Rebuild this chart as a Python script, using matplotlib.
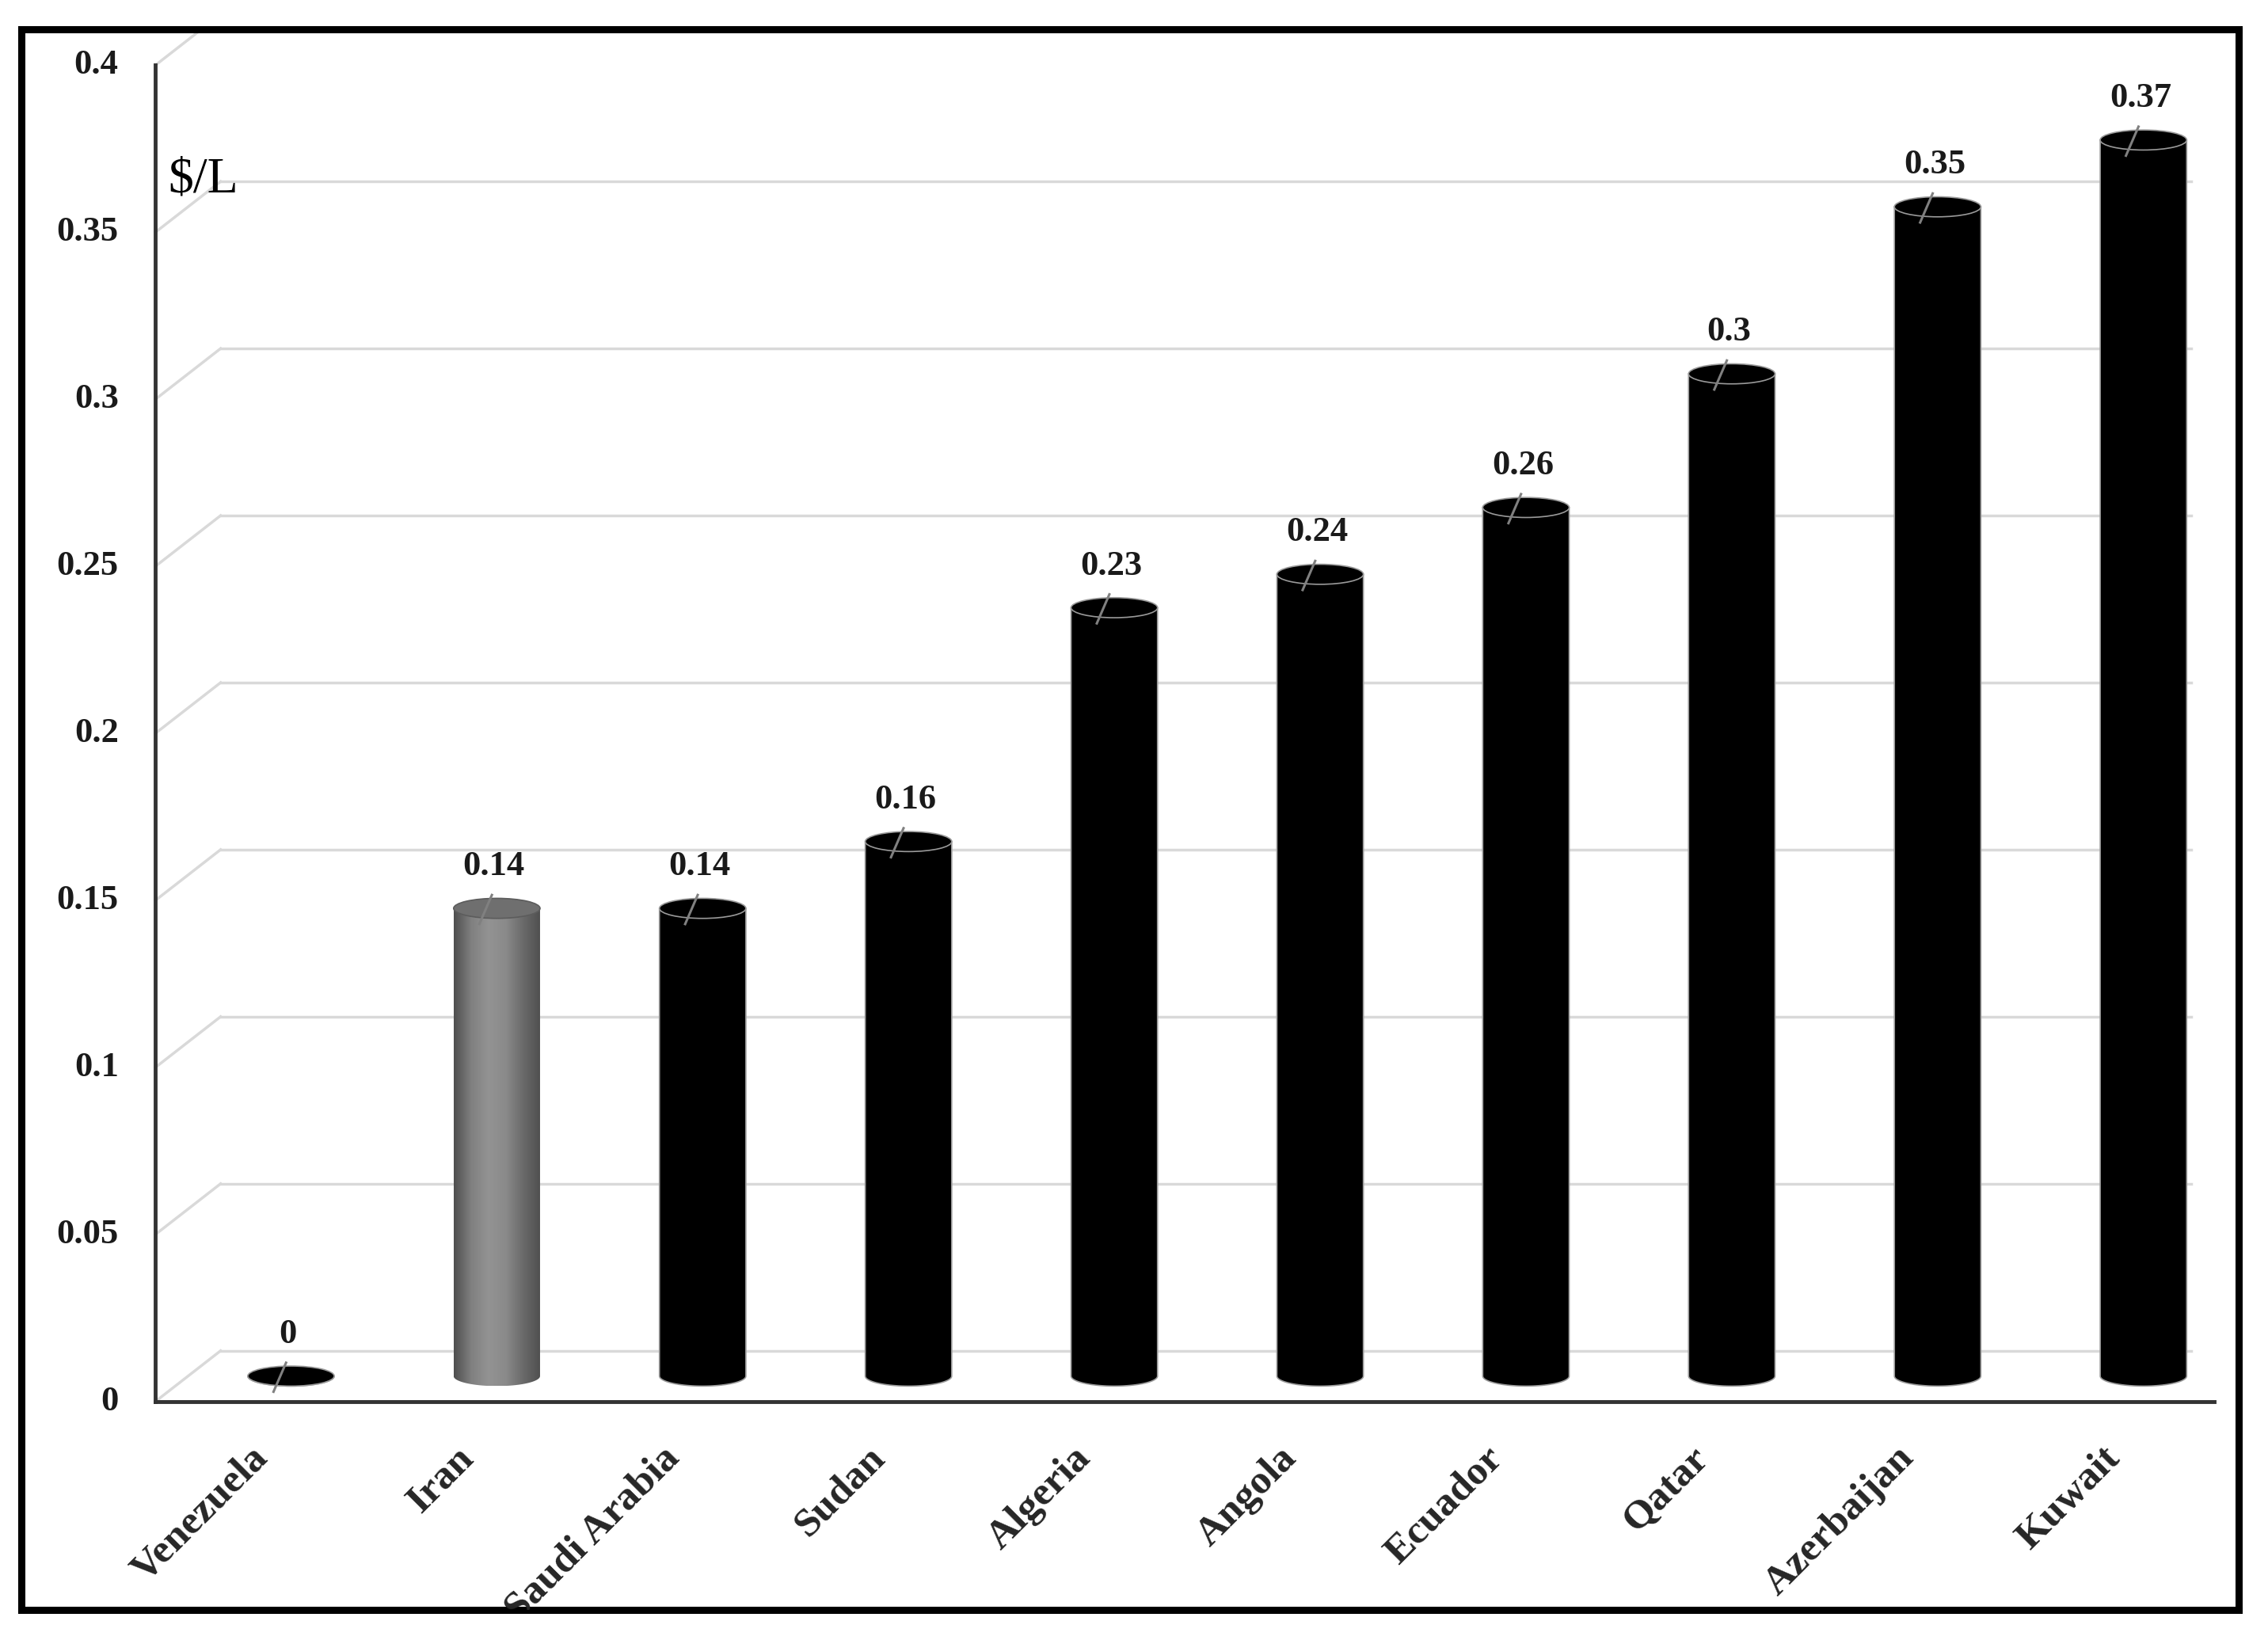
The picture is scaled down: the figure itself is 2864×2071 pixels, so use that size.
import numpy as np
import matplotlib.pyplot as plt
from matplotlib.patches import Ellipse, Polygon
from matplotlib.colors import LinearSegmentedColormap

countries = ["Venezuela", "Iran", "Saudi Arabia", "Sudan", "Algeria",
             "Angola", "Ecuador", "Qatar", "Azerbaijan", "Kuwait"]
prices = [0, 0.14, 0.14, 0.16, 0.23, 0.24, 0.26, 0.30, 0.35, 0.37]
price_labels = ["0", "0.14", "0.14", "0.16", "0.23", "0.24", "0.26", "0.3", "0.35", "0.37"]
highlight = "Iran"
yticks = [0, 0.05, 0.1, 0.15, 0.2, 0.25, 0.3, 0.35, 0.4]
ytick_labels = ["0", "0.05", "0.1", "0.15", "0.2", "0.25", "0.3", "0.35", "0.4"]
unit = "$/L"

# fake 3d: depth offset of the back wall
DX = 0.316
DY = 0.01515
W = 0.42      # cylinder width
EH = 0.003    # ellipse half height

plt.rcParams['font.family'] = ['Liberation Serif', 'DejaVu Serif']

fig = plt.figure(figsize=(28.64, 20.71), dpi=100)
ax = fig.add_axes([15 / 1568, 1 - 1113 / 1134, 1533 / 1568, 1093 / 1134])
ax.set_xticks([])
ax.set_yticks([])
for s in ax.spines.values():
    s.set_linewidth(6.5)
    s.set_color("black")

x_left = -0.5
x_front_end = len(countries) - 0.5
x_back_end = len(countries) - 0.61

# back wall gridlines + diagonals
for v in yticks:
    ax.plot([x_left, x_left + DX], [v, v + DY], color="#d9d9d9", lw=2.5, zorder=1)
    ax.plot([x_left + DX, x_back_end], [v + DY, v + DY], color="#d9d9d9", lw=2.5, zorder=1)

# front axes
ax.plot([x_left, x_left], [0, yticks[-1]], color="#333333", lw=3.5, zorder=2)
ax.plot([x_left, x_front_end], [0, 0], color="#333333", lw=3.5, zorder=2)

for v, lab in zip(yticks, ytick_labels):
    ax.text(x_left - 0.18, v, lab, ha="right", va="center", fontsize=32,
            fontweight="bold", color="#1a1a1a")

ax.text(x_left + 0.06, 0.3619, unit, ha="left", va="baseline", fontsize=46, color="black")

gray_cmap = LinearSegmentedColormap.from_list(
    "cyl", ["#4f4f4f", "#808080", "#939393", "#8a8a8a", "#6a6a6a", "#4f4f4f"])

t = np.linspace(np.pi, 2 * np.pi, 60)
for i, (name, val, lab) in enumerate(zip(countries, prices, price_labels)):
    cx = i + DX / 2
    bottom = DY / 2
    top = bottom + val
    ex = cx + W / 2 * np.cos(t)
    ey = bottom + EH * np.sin(t)
    pts = np.column_stack([np.r_[ex, cx + W / 2, cx - W / 2],
                           np.r_[ey, top, top]])
    if name == highlight:
        body = Polygon(pts, closed=True, facecolor="none", edgecolor="none")
        ax.add_patch(body)
        grad = np.linspace(0, 1, 200).reshape(1, -1)
        im = ax.imshow(grad, cmap=gray_cmap, aspect="auto", zorder=3,
                       extent=[cx - W / 2, cx + W / 2, bottom - EH, top])
        im.set_clip_path(body)
        top_face, top_edge = "#6f6f6f", "#5c5c5c"
    else:
        ax.add_patch(Polygon(pts, closed=True, facecolor="black",
                             edgecolor="#9a9a9a", lw=1.2, zorder=3))
        top_face, top_edge = "black", "#9a9a9a"
    ax.add_patch(Ellipse((cx, top), W, 2 * EH, facecolor=top_face,
                         edgecolor=top_edge, lw=1.2, zorder=4))
    # leader line + value label
    te = top + EH
    ax.plot([cx - 0.085, cx - 0.024], [te - 0.0077, te + 0.001],
            color="#808080", lw=2.2, zorder=5)
    ax.text(cx - 0.015, te + 0.0069, lab, ha="center", va="baseline",
            fontsize=32, fontweight="bold", color="#1a1a1a", zorder=6)
    # category label
    ax.text(i - 0.045, -0.0115, name, rotation=45, rotation_mode="anchor",
            ha="right", va="top", fontsize=37, fontweight="bold",
            color="#262626", clip_on=True)

ax.set_xlim(-1.1504, 9.6226)
ax.set_ylim(-0.06234, 0.41082)

fig.savefig("out.png", dpi=100)
